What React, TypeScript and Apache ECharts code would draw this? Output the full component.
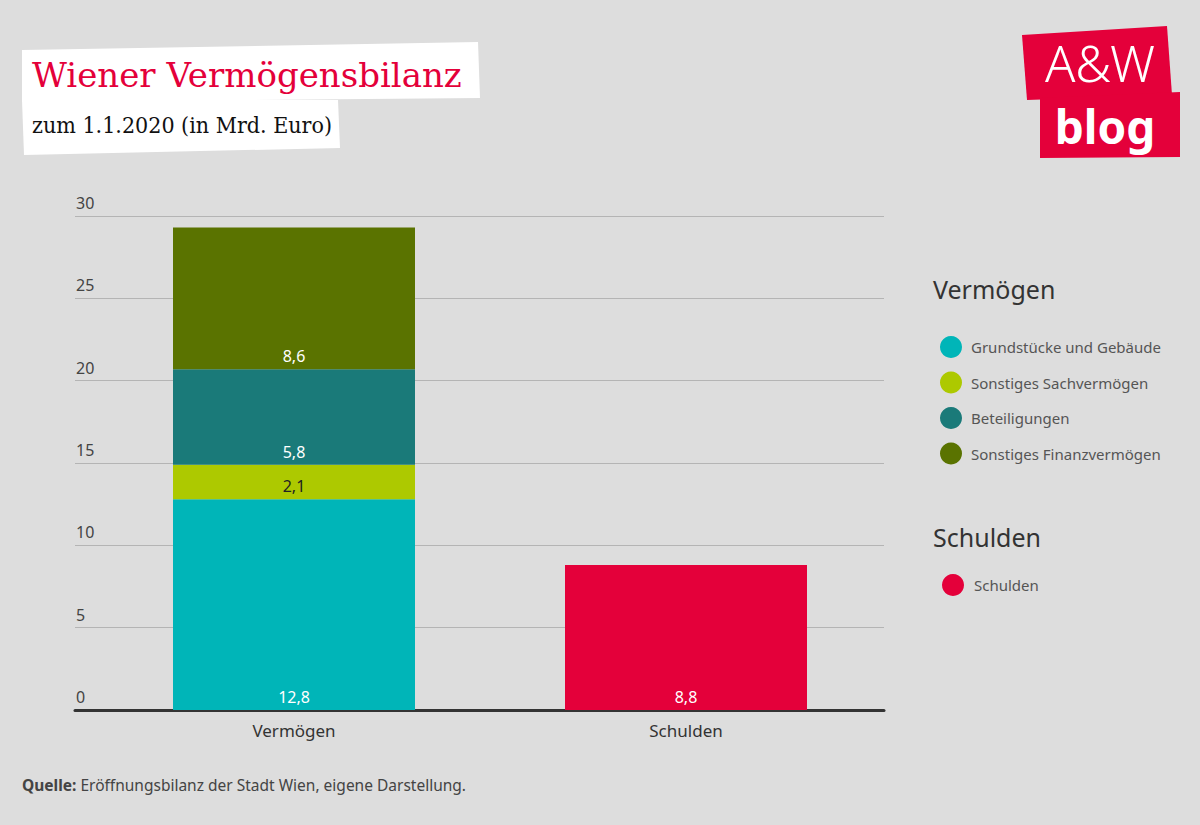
import React, { useEffect, useRef } from "react";
import * as echarts from "echarts";

const categories = ["Vermögen", "Schulden"];
const seriesNames = [
  "Grundstücke und Gebäude",
  "Sonstiges Sachvermögen",
  "Beteiligungen",
  "Sonstiges Finanzvermögen",
];
const vermoegenValues = [12.8, 2.1, 5.8, 8.6];
const schuldenValues = [8.8];
const schuldenName = "Schulden";
const colors = ["#00b5b8", "#adc900", "#1a7a79", "#5a7300"];
const schuldenColor = "#e4003a";
const labelColors = ["#ffffff", "#222222", "#ffffff", "#ffffff"];
const yTicks = { min: 0, max: 30, interval: 5 };

const FONT = "'Noto Sans', sans-serif";
const fmt = (v: number) => String(v).replace(".", ",");

export default function App() {
  const ref = useRef<HTMLDivElement>(null);
  useEffect(() => {
    if (!ref.current) return;
    const chart = echarts.init(ref.current, undefined, { renderer: "svg" });

    const mkLabel = (color: string) => ({
      show: true,
      position: "insideBottom",
      distance: 5,
      color,
      fontFamily: FONT,
      fontSize: 16,
      formatter: (p: any) => fmt(p.value),
    });

    const vSeries = seriesNames.map((name, i) => ({
      name,
      type: "bar",
      stack: "a",
      xAxisIndex: 1,
      yAxisIndex: 1,
      barWidth: 242,
      data: [vermoegenValues[i], "-"],
      itemStyle: { color: colors[i] },
      label: mkLabel(labelColors[i]),
    }));

    const sSeries = {
      name: schuldenName,
      type: "bar",
      stack: "a",
      xAxisIndex: 1,
      yAxisIndex: 1,
      barWidth: 242,
      data: ["-", schuldenValues[0]],
      itemStyle: { color: schuldenColor },
      label: mkLabel("#ffffff"),
    };

    chart.setOption({
      animation: false,
      backgroundColor: "#dddddd",
      textStyle: { fontFamily: FONT },
      grid: [
        { left: 75, right: 316, top: 216, bottom: 115 },
        { left: 98, right: 318, top: 216, bottom: 115 },
      ],
      xAxis: [
        {
          gridIndex: 0,
          type: "value",
          min: 0,
          max: 1,
          axisLine: { show: true, lineStyle: { color: "#333333", width: 3 } },
          axisTick: { show: false },
          axisLabel: { show: false },
          splitLine: { show: false },
        },
        {
          gridIndex: 1,
          type: "category",
          data: categories,
          axisLine: { show: false },
          axisTick: { show: false },
          axisLabel: { color: "#333333", fontSize: 17, fontFamily: FONT, margin: 12 },
        },
      ],
      yAxis: [
        {
          gridIndex: 0,
          type: "value",
          min: yTicks.min,
          max: yTicks.max,
          interval: yTicks.interval,
          axisLine: { show: false },
          axisTick: { show: false },
          splitLine: { lineStyle: { color: "#b4b4b4", width: 1 } },
          axisLabel: {
            inside: true,
            align: "left",
            verticalAlign: "bottom",
            margin: 1,
            padding: [0, 0, 5, 0],
            color: "#444444",
            fontSize: 16,
            fontFamily: FONT,
          },
        },
        {
          gridIndex: 1,
          type: "value",
          min: yTicks.min,
          max: yTicks.max,
          interval: yTicks.interval,
          show: false,
        },
      ],
      legend: [
        {
          data: seriesNames,
          orient: "vertical",
          left: 935,
          top: 331,
          icon: "circle",
          itemWidth: 22,
          itemHeight: 22,
          itemGap: 13.5,
          textStyle: { color: "#555555", fontSize: 15, fontFamily: FONT, padding: [0, 0, 0, 4] },
          selectedMode: false,
        },
        {
          data: [schuldenName],
          orient: "vertical",
          left: 937,
          top: 569,
          icon: "circle",
          itemWidth: 22,
          itemHeight: 22,
          textStyle: { color: "#555555", fontSize: 15, fontFamily: FONT, padding: [0, 0, 0, 5] },
          selectedMode: false,
        },
      ],
      graphic: [
        {
          type: "polygon",
          shape: { points: [[22, 50], [478, 42], [480, 98], [22, 102]] },
          style: { fill: "#ffffff" },
        },
        {
          type: "polygon",
          shape: { points: [[22, 100], [338, 100], [340, 148], [24, 155]] },
          style: { fill: "#ffffff" },
        },
        {
          type: "text",
          x: 32,
          y: 75,
          style: {
            text: "Wiener Vermögensbilanz",
            fill: "#e4003a",
            font: "34px 'DejaVu Serif', serif",
            verticalAlign: "middle",
          },
        },
        {
          type: "text",
          x: 32,
          y: 125,
          style: {
            text: "zum 1.1.2020 (in Mrd. Euro)",
            fill: "#111111",
            font: "23px 'DejaVu Serif Condensed', 'Liberation Serif', serif",
            verticalAlign: "middle",
          },
        },
        {
          type: "polygon",
          shape: { points: [[1022, 35], [1167, 26], [1172, 95], [1027, 100]] },
          style: { fill: "#e4003a" },
        },
        {
          type: "polygon",
          shape: { points: [[1040, 98], [1180, 92], [1180, 157], [1040, 158]] },
          style: { fill: "#e4003a" },
        },
        {
          type: "text",
          x: 1100,
          y: 63,
          style: {
            text: "A&W",
            fill: "#ffffff",
            font: "300 50px 'Noto Sans', sans-serif",
            align: "center",
            verticalAlign: "middle",
            lineHeight: 50,
          },
        },
        {
          type: "text",
          x: 1105,
          y: 126,
          style: {
            text: "blog",
            fill: "#ffffff",
            font: "bold 46px 'Noto Sans', sans-serif",
            align: "center",
            verticalAlign: "middle",
            lineHeight: 46,
          },
        },
        {
          type: "text",
          x: 933,
          y: 289,
          style: {
            text: "Vermögen",
            fill: "#333333",
            font: "25px 'Noto Sans', sans-serif",
            verticalAlign: "middle",
          },
        },
        {
          type: "text",
          x: 933,
          y: 537,
          style: {
            text: "Schulden",
            fill: "#333333",
            font: "25px 'Noto Sans', sans-serif",
            verticalAlign: "middle",
          },
        },
        {
          type: "text",
          x: 22,
          y: 785,
          style: {
            text: "{b|Quelle:} Eröffnungsbilanz der Stadt Wien, eigene Darstellung.",
            fill: "#444444",
            font: "15.5px 'Noto Sans', sans-serif",
            verticalAlign: "middle",
            rich: {
              b: { fontWeight: "bold", fontSize: 15.5, fontFamily: FONT, fill: "#444444" },
            },
          },
        },
      ],
      series: [...vSeries, sSeries],
    });

    return () => chart.dispose();
  }, []);

  return (
    <div
      ref={ref}
      style={{ position: "absolute", left: 0, top: 0, width: 1200, height: 825 }}
    />
  );
}
